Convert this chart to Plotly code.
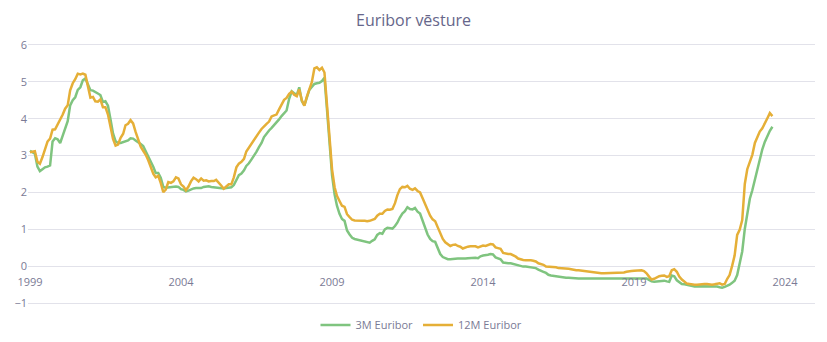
import pandas as pd
import plotly.graph_objects as go

# Monthly Euribor values, Jan 1999 .. Aug 2023
euribor_3m = [
    3.13, 3.09, 3.05, 2.70, 2.58, 2.63, 2.68, 2.70, 2.73, 3.38, 3.47, 3.44,   # 1999
    3.34, 3.54, 3.75, 3.93, 4.36, 4.50, 4.58, 4.78, 4.85, 5.04, 5.09, 4.94,   # 2000
    4.77, 4.76, 4.71, 4.68, 4.64, 4.45, 4.47, 4.35, 3.98, 3.60, 3.39, 3.34,   # 2001
    3.34, 3.36, 3.39, 3.41, 3.47, 3.46, 3.41, 3.35, 3.31, 3.26, 3.12, 2.94,   # 2002
    2.83, 2.69, 2.53, 2.53, 2.40, 2.15, 2.13, 2.14, 2.15, 2.14, 2.16, 2.15,   # 2003
    2.09, 2.07, 2.03, 2.05, 2.09, 2.11, 2.12, 2.11, 2.12, 2.15, 2.17, 2.17,   # 2004
    2.15, 2.14, 2.14, 2.14, 2.13, 2.11, 2.12, 2.13, 2.14, 2.20, 2.36, 2.47,   # 2005
    2.51, 2.60, 2.72, 2.79, 2.89, 2.99, 3.10, 3.23, 3.34, 3.50, 3.60, 3.68,   # 2006
    3.75, 3.82, 3.89, 3.98, 4.07, 4.15, 4.22, 4.54, 4.74, 4.69, 4.64, 4.85,   # 2007
    4.48, 4.36, 4.60, 4.78, 4.86, 4.94, 4.96, 4.97, 5.02, 5.11, 4.24, 3.29,   # 2008
    2.46, 1.94, 1.64, 1.42, 1.28, 1.23, 0.97, 0.86, 0.77, 0.74, 0.72, 0.71,   # 2009
    0.68, 0.66, 0.64, 0.64, 0.69, 0.73, 0.85, 0.90, 0.88, 1.00, 1.04, 1.02,   # 2010
    1.02, 1.09, 1.18, 1.32, 1.43, 1.49, 1.60, 1.55, 1.54, 1.58, 1.48, 1.43,   # 2011
    1.22, 1.05, 0.86, 0.74, 0.68, 0.66, 0.50, 0.33, 0.25, 0.21, 0.19, 0.19,   # 2012
    0.20, 0.22, 0.21, 0.21, 0.20, 0.21, 0.22, 0.23, 0.22, 0.23, 0.22, 0.27,   # 2013
    0.29, 0.29, 0.31, 0.33, 0.32, 0.24, 0.21, 0.19, 0.10, 0.08, 0.08, 0.08,   # 2014
    0.06, 0.05, 0.03, 0.00, -0.01, -0.01, -0.02, -0.03, -0.04, -0.05, -0.09, -0.13,   # 2015
    -0.15, -0.18, -0.23, -0.25, -0.26, -0.27, -0.29, -0.30, -0.30, -0.31, -0.31, -0.32,   # 2016
    -0.33, -0.33, -0.33, -0.33, -0.33, -0.33, -0.33, -0.33, -0.33, -0.33, -0.33, -0.33,   # 2017
    -0.33, -0.33, -0.33, -0.33, -0.33, -0.32, -0.32, -0.32, -0.32, -0.32, -0.32, -0.31,   # 2018
    -0.31, -0.31, -0.31, -0.31, -0.31, -0.33, -0.37, -0.41, -0.42, -0.41, -0.40, -0.39,   # 2019
    -0.39, -0.41, -0.42, -0.25, -0.27, -0.38, -0.44, -0.48, -0.49, -0.51, -0.52, -0.54,   # 2020
    -0.55, -0.54, -0.54, -0.54, -0.54, -0.54, -0.55, -0.55, -0.55, -0.55, -0.57, -0.58,   # 2021
    -0.56, -0.53, -0.50, -0.45, -0.39, -0.24, 0.04, 0.40, 1.01, 1.43, 1.83, 2.06,   # 2022
    2.35, 2.64, 2.91, 3.17, 3.37, 3.54, 3.67, 3.78,                                 # 2023
]

euribor_12m = [
    3.09, 3.10, 3.12, 2.83, 2.78, 2.96, 3.18, 3.38, 3.46, 3.70, 3.71, 3.83,   # 1999
    3.95, 4.11, 4.27, 4.36, 4.77, 4.96, 5.07, 5.22, 5.20, 5.22, 5.19, 4.88,   # 2000
    4.57, 4.59, 4.47, 4.46, 4.52, 4.31, 4.31, 4.11, 3.77, 3.45, 3.27, 3.30,   # 2001
    3.48, 3.59, 3.82, 3.86, 3.96, 3.87, 3.64, 3.44, 3.24, 3.13, 3.02, 2.87,   # 2002
    2.71, 2.50, 2.41, 2.45, 2.26, 2.01, 2.08, 2.28, 2.26, 2.30, 2.41, 2.38,   # 2003
    2.22, 2.16, 2.06, 2.16, 2.30, 2.40, 2.36, 2.30, 2.38, 2.32, 2.33, 2.30,   # 2004
    2.31, 2.31, 2.34, 2.27, 2.19, 2.10, 2.17, 2.22, 2.22, 2.41, 2.68, 2.78,   # 2005
    2.83, 2.91, 3.11, 3.22, 3.31, 3.40, 3.54, 3.62, 3.72, 3.80, 3.86, 3.92,   # 2006
    4.06, 4.09, 4.11, 4.25, 4.37, 4.51, 4.56, 4.67, 4.73, 4.65, 4.61, 4.79,   # 2007
    4.50, 4.35, 4.59, 4.82, 4.99, 5.36, 5.39, 5.32, 5.38, 5.25, 4.35, 3.45,   # 2008
    2.62, 2.14, 1.91, 1.77, 1.64, 1.61, 1.41, 1.33, 1.26, 1.24, 1.23, 1.24,   # 2009
    1.23, 1.23, 1.22, 1.23, 1.25, 1.28, 1.37, 1.42, 1.42, 1.50, 1.54, 1.53,   # 2010
    1.55, 1.71, 1.92, 2.09, 2.15, 2.14, 2.18, 2.10, 2.07, 2.11, 2.04, 2.00,   # 2011
    1.84, 1.68, 1.50, 1.37, 1.27, 1.22, 1.06, 0.88, 0.74, 0.65, 0.59, 0.55,   # 2012
    0.58, 0.59, 0.55, 0.53, 0.48, 0.51, 0.53, 0.54, 0.54, 0.54, 0.51, 0.54,   # 2013
    0.56, 0.55, 0.58, 0.60, 0.59, 0.51, 0.49, 0.47, 0.36, 0.34, 0.33, 0.33,   # 2014
    0.30, 0.26, 0.21, 0.18, 0.17, 0.16, 0.17, 0.16, 0.15, 0.13, 0.08, 0.06,   # 2015
    0.04, -0.01, -0.01, -0.01, -0.01, -0.03, -0.05, -0.05, -0.06, -0.07, -0.07, -0.08,   # 2016
    -0.10, -0.11, -0.11, -0.12, -0.13, -0.15, -0.15, -0.16, -0.17, -0.18, -0.19, -0.19,   # 2017
    -0.19, -0.19, -0.19, -0.19, -0.19, -0.18, -0.18, -0.17, -0.17, -0.15, -0.15, -0.13,   # 2018
    -0.12, -0.11, -0.11, -0.11, -0.13, -0.19, -0.28, -0.36, -0.34, -0.30, -0.27, -0.26,   # 2019
    -0.25, -0.29, -0.27, -0.11, -0.08, -0.15, -0.28, -0.36, -0.41, -0.47, -0.48, -0.50,   # 2020
    -0.50, -0.50, -0.49, -0.48, -0.48, -0.48, -0.49, -0.50, -0.49, -0.48, -0.46, -0.50,   # 2021
    -0.48, -0.34, -0.24, 0.01, 0.29, 0.85, 0.99, 1.25, 2.23, 2.63, 2.83, 3.02,   # 2022
    3.34, 3.53, 3.65, 3.74, 3.86, 4.01, 4.15, 4.07,                             # 2023
]

months = pd.date_range("1999-01-01", periods=len(euribor_3m), freq="MS")

tick_years = ["1999", "2004", "2009", "2014", "2019", "2024"]
tick_dates = [f"{y}-01-01" for y in tick_years]

series_names = ["3M Euribor", "12M Euribor"]
series_colors = ["#7fc47f", "#e5af37"]

fig = go.Figure()
for name, vals, col in zip(series_names, [euribor_3m, euribor_12m], series_colors):
    fig.add_trace(go.Scatter(x=months, y=vals, mode="lines", name=name,
                             line=dict(color=col, width=2.5)))

ymin, ymax = -1.05, 6.05
fig.update_layout(
    width=827, height=342,
    margin=dict(l=28, r=12, t=43, b=37, autoexpand=False),
    paper_bgcolor="white", plot_bgcolor="white",
    font=dict(family="Open Sans", color="#7a7a95", size=11),
    title=dict(text="Euribor vēsture", x=0.5, xanchor="center",
               y=1 - 20 / 342, yanchor="middle", yref="container",
               font=dict(size=16, color="#66668a")),
    showlegend=True,
    legend=dict(orientation="h", x=0.5, xanchor="center",
                yref="container", y=1 - 325 / 342, yanchor="middle",
                font=dict(size=11, color="#7a7a95")),
    xaxis=dict(type="date", range=["1998-12-08", "2024-12-28"],
               tickvals=tick_dates, ticktext=tick_years,
               showgrid=False, zeroline=False, showline=False, ticks="",
               ticklabelstandoff=8, automargin=False,
               anchor="free", position=(0 - ymin) / (ymax - ymin)),
    yaxis=dict(range=[ymin, ymax], dtick=1, tick0=0, showgrid=True,
               gridcolor="#e2e2ea", gridwidth=1, zeroline=False,
               showline=False, ticks="", automargin=False),
)

fig.write_html("out.html")
